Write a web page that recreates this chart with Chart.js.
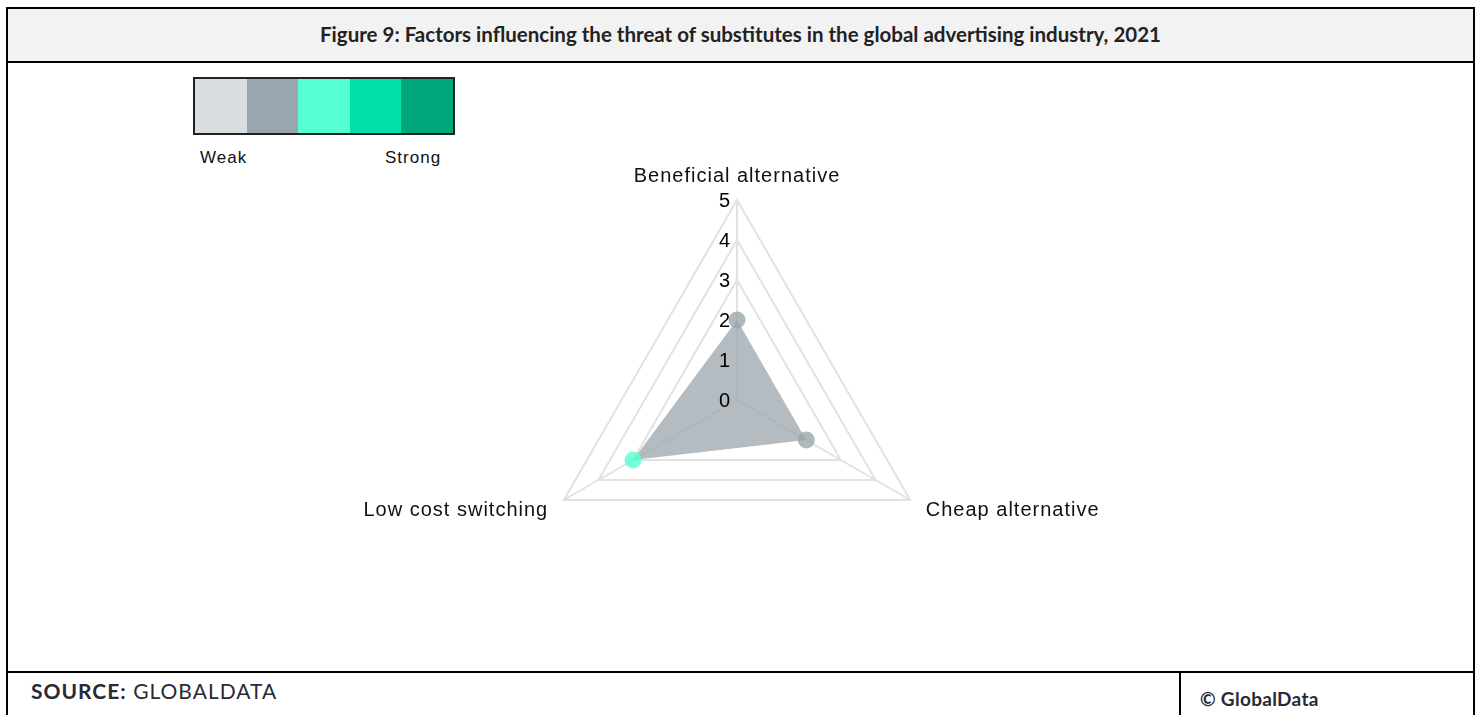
<!DOCTYPE html>
<html>
<head>
<meta charset="utf-8">
<script src="https://cdn.jsdelivr.net/npm/chart.js@4.4.1/dist/chart.umd.min.js"></script>
<style>
  html, body { margin: 0; padding: 0; background: #fff; width: 1479px; height: 715px; overflow: hidden; }
  body { position: relative; font-family: "Liberation Sans", Arial, sans-serif; }
  .abs { position: absolute; }
  #frame { left: 6px; top: 7px; width: 1465px; height: 720px; border: 2px solid #000; border-bottom: none; }
  #titleband { left: 8px; top: 9px; width: 1465px; height: 52px; background: #f2f2f2; border-bottom: 2px solid #000; }
  #title { left: 8px; top: 9px; width: 1465px; height: 52px; line-height: 50px; text-align: center;
           font-family: Lato, "Open Sans", sans-serif; font-weight: bold; font-size: 20.5px; color: #222; }
  #footline { left: 6px; top: 671px; width: 1469px; height: 2px; background: #000; }
  #divider { left: 1179px; top: 671px; width: 2px; height: 60px; background: #000; }
  #source { left: 31px; top: 678px; font-family: Lato, "Open Sans", sans-serif; font-size: 21px; letter-spacing: 1px; color: #2a2a36; }
  #copy { left: 1200px; top: 687px; font-family: Lato, "Open Sans", sans-serif; font-size: 19px; font-weight: bold; letter-spacing: 0.3px; color: #2a2a36; }
  #legendbox { left: 193px; top: 77px; width: 258px; height: 54px; border: 2px solid #222; display: flex; }
  #legendbox div { flex: 1 1 0; height: 100%; }
  #weak { left: 200px; top: 148px; font-size: 17px; color: #111; letter-spacing: 1px; }
  #strong { left: 385px; top: 148px; font-size: 17px; color: #111; letter-spacing: 1px; }
  #chartwrap { left: 0px; top: 63px; width: 1474px; height: 608px; }
</style>
</head>
<body>
<div id="titleband" class="abs"></div>
<div id="frame" class="abs"></div>
<div id="title" class="abs">Figure 9: Factors influencing the threat of substitutes in the global advertising industry, 2021</div>
<div id="legendbox" class="abs"></div>
<div id="weak" class="abs">Weak</div>
<div id="strong" class="abs">Strong</div>
<div id="chartwrap" class="abs"><canvas id="c" width="1474" height="608"></canvas></div>
<div id="footline" class="abs"></div>
<div id="divider" class="abs"></div>
<div id="source" class="abs"><b>SOURCE:</b> GLOBALDATA</div>
<div id="copy" class="abs">© GlobalData</div>

<script>
// ---- data ----
const categories = ['Beneficial alternative', 'Cheap alternative', 'Low cost switching'];
const scores = [2, 2, 3];
const scaleTicks = [0, 1, 2, 3, 4, 5];
const strengthLabels = ['Weak', 'Strong'];
const strengthColors = ['#d9dee1', '#9aa6ad', '#55ffd3', '#00e0a8', '#00a67c'];

// legend swatches
const lb = document.getElementById('legendbox');
strengthColors.forEach(c => { const d = document.createElement('div'); d.style.background = c; lb.appendChild(d); });
document.getElementById('weak').textContent = strengthLabels[0];
document.getElementById('strong').textContent = strengthLabels[1];

function withAlpha(hex, a) {
  const n = parseInt(hex.slice(1), 16);
  return `rgba(${(n >> 16) & 255},${(n >> 8) & 255},${n & 255},${a})`;
}
const pointColors = scores.map(s => withAlpha(strengthColors[Math.max(0, Math.round(s) - 1)], 0.8));

const labelPlugin = {
  id: 'labelPlugin',
  afterDatasetsDraw(chart) {
    const scale = chart.scales.r;
    const ctx = chart.ctx;
    ctx.save();
    // tick labels
    ctx.font = '20px "Liberation Sans", Arial, sans-serif';
    ctx.fillStyle = '#000';
    ctx.textAlign = 'right';
    ctx.textBaseline = 'middle';
    scaleTicks.forEach(v => {
      const d = scale.getDistanceFromCenterForValue(v);
      ctx.fillText(String(v), scale.xCenter - 7, scale.yCenter - d + 1);
    });
    // point labels
    ctx.font = '20px "Liberation Sans", Arial, sans-serif';
    ctx.fillStyle = '#111';
    try { ctx.letterSpacing = '1px'; } catch (e) {}
    categories.forEach((lab, i) => {
      const p = scale.getPointPosition(i, scale.drawingArea + 18);
      const dx = p.x - scale.xCenter;
      if (Math.abs(dx) < 2) {
        ctx.textAlign = 'center';
        ctx.textBaseline = 'alphabetic';
        ctx.fillText(lab, p.x, p.y);
      } else {
        ctx.textAlign = dx > 0 ? 'left' : 'right';
        ctx.textBaseline = 'middle';
        ctx.fillText(lab, p.x, p.y + 1);
      }
    });
    ctx.restore();
  }
};

new Chart(document.getElementById('c'), {
  type: 'radar',
  data: {
    labels: categories,
    datasets: [{
      data: scores,
      backgroundColor: 'rgba(160,169,176,0.78)',
      borderWidth: 0,
      borderColor: 'rgba(0,0,0,0)',
      fill: true,
      pointRadius: 8.5,
      pointHoverRadius: 8.5,
      pointBorderWidth: 0,
      pointBackgroundColor: pointColors
    }]
  },
  options: {
    responsive: false,
    animation: false,
    layout: { padding: { top: 137, bottom: 71, left: 0, right: 0 } },
    plugins: { legend: { display: false }, tooltip: { enabled: false } },
    scales: {
      r: {
        min: scaleTicks[0],
        max: scaleTicks[scaleTicks.length - 1],
        ticks: { stepSize: 1, display: false, showLabelBackdrop: false },
        pointLabels: { display: false },
        grid: {
          lineWidth: 2,
          color: ctx => (ctx.tick && ctx.tick.value >= 3) ? '#e2e2e2' : 'rgba(0,0,0,0)'
        },
        angleLines: { color: '#e2e2e2', lineWidth: 2 }
      }
    }
  },
  plugins: [labelPlugin]
});
</script>
</body>
</html>
